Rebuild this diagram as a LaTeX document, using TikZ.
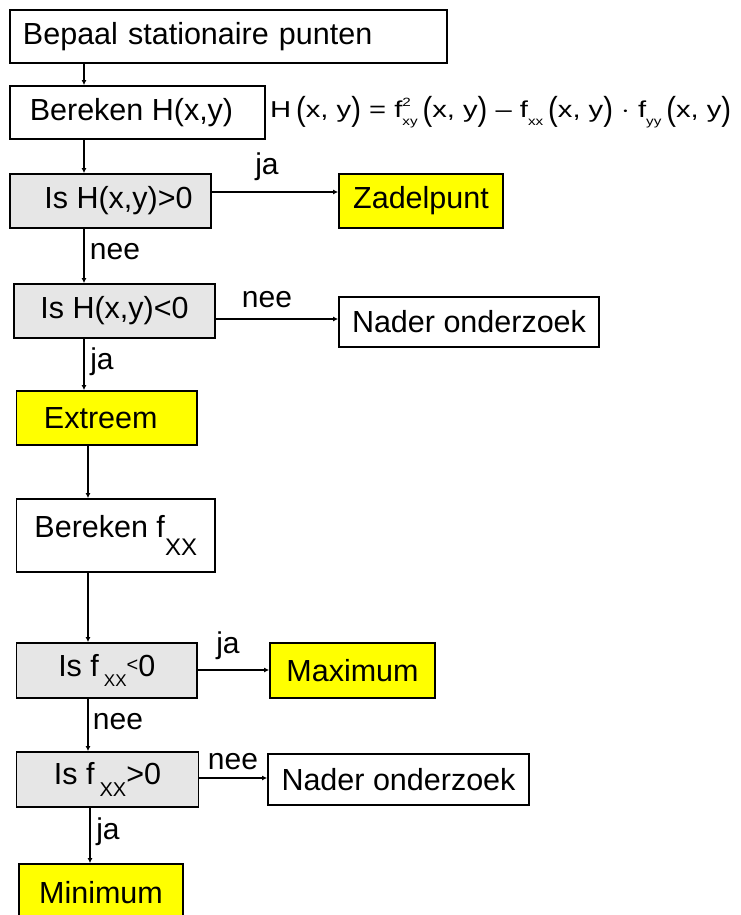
\documentclass[tikz,border=0pt]{standalone}
\usepackage{fontspec}
\setmainfont{Liberation Sans}
\usetikzlibrary{arrows.meta}
\definecolor{boxgray}{RGB}{230,230,230}
\definecolor{boxyellow}{RGB}{255,255,0}
\newcommand{\bigpar}[1]{\raisebox{-0.12em}{\scalebox{1}[1.45]{#1}}}
\newcommand{\subsup}[2]{\rlap{\raisebox{0.5em}{\fontsize{12}{12}\selectfont #1}}\raisebox{-0.32em}{\fontsize{12}{12}\selectfont #2}}
\newcommand{\subonly}[1]{\raisebox{-0.32em}{\fontsize{12}{12}\selectfont #1}}
\begin{document}
\begin{tikzpicture}[x=1pt,y=-1pt,
  box/.style={draw=black, line width=1.8pt, fill=white, inner sep=0pt,
    font=\fontsize{30.5}{34}\selectfont},
  test/.style={box, fill=boxgray},
  result/.style={box, fill=boxyellow},
  arr/.style={line width=1.6pt, -{Latex[length=5pt,width=5pt]}},
  lbl/.style={inner sep=0pt, font=\fontsize{30}{34}\selectfont}
]
\useasboundingbox (0,0) rectangle (741,915);
% boxes
\node[box, minimum width=437pt, minimum height=53pt, text width=411pt, align=left] (b1) at (228.5,36.5) {Bepaal stationaire punten};
\node[box, minimum width=255pt, minimum height=53pt] (b2) at (137.5,112.5) {Bereken H(x,y)\hspace*{12pt}};
\node[test, minimum width=201pt, minimum height=54pt] (b3) at (110.5,201) {\hspace*{16pt}Is H(x,y)>0};
\node[result, minimum width=164pt, minimum height=54pt] (zadel) at (421,201) {Zadelpunt};
\node[test, minimum width=201pt, minimum height=54pt] (b4) at (114.5,311) {Is H(x,y)<0};
\node[box, minimum width=260pt, minimum height=50pt] (nader1) at (469,322) {Nader onderzoek};
\node[result, minimum width=180.5pt, minimum height=54pt] (extreem) at (106.75,418) {Extreem\hspace*{12pt}};
\node[box, minimum width=198.5pt, minimum height=73pt] (b5) at (115.75,535.5) {Bereken f\raisebox{-0.6em}{\fontsize{24}{24}\selectfont XX}};
\node[test, minimum width=180.5pt, minimum height=55pt] (b6) at (106.75,670.5) {Is f\hspace{5pt}\raisebox{-0.35em}{\fontsize{17}{17}\selectfont XX}\raisebox{0.15em}{\fontsize{20}{20}\selectfont <}0};
\node[result, minimum width=165pt, minimum height=55pt] (maximum) at (352.5,670.5) {Maximum};
\node[test, minimum width=182pt, minimum height=55pt] (b7) at (107.5,779.5) {Is f\hspace{5pt}\raisebox{-0.4em}{\fontsize{20}{20}\selectfont XX}>0};
\node[box, minimum width=261pt, minimum height=51pt] (nader2) at (398.5,779.5) {Nader onderzoek};
\node[result, minimum width=164pt, minimum height=58pt] (minimum) at (101,893) {Minimum};
% formula
\node[anchor=west, inner sep=0pt, font=\fontsize{23}{24}\selectfont] (formula) at (270,112)
  {\scalebox{1.27}[1]{H\,\bigpar{(}x, y\bigpar{)} = f\subsup{2}{xy}\,\bigpar{(}x, y\bigpar{)} -- f\subonly{xx}\,\bigpar{(}x, y\bigpar{)} $\cdot$ f\subonly{yy}\,\bigpar{(}x, y\bigpar{)}}};
% helper coordinates
\coordinate (cA) at (84,0);
\coordinate (cB) at (88,0);
\coordinate (cC) at (90,0);
\coordinate (r1) at (0,192);
\coordinate (r2) at (0,319);
\coordinate (r3) at (0,670);
\coordinate (r4) at (0,778);
% vertical connectors
\draw[arr] (b1.south -| cA) -- (b2.north -| cA);
\draw[arr] (b2.south -| cA) -- (b3.north -| cA);
\draw[arr] (b3.south -| cA) -- (b4.north -| cA);
\draw[arr] (b4.south -| cA) -- (extreem.north -| cA);
\draw[arr] (extreem.south -| cB) -- (b5.north -| cB);
\draw[arr] (b5.south -| cB) -- (b6.north -| cB);
\draw[arr] (b6.south -| cB) -- (b7.north -| cB);
\draw[arr] (b7.south -| cC) -- (minimum.north -| cC);
% horizontal connectors
\draw[arr] (b3.east |- r1) -- (zadel.west |- r1);
\draw[arr] (b4.east |- r2) -- (nader1.west |- r2);
\draw[arr] (b6.east |- r3) -- (maximum.west |- r3);
\draw[arr] (b7.east |- r4) -- (nader2.west |- r4);
% labels
\node[lbl] (l1) at (267,167) {ja};
\node[lbl] (l2) at (115,252) {nee};
\node[lbl] (l3) at (267,300) {nee};
\node[lbl] (l4) at (102,362) {ja};
\node[lbl] (l5) at (228,646) {ja};
\node[lbl] (l6) at (118,722) {nee};
\node[lbl] (l7) at (233,762) {nee};
\node[lbl] (l8) at (108,832) {ja};
\end{tikzpicture}
\end{document}
